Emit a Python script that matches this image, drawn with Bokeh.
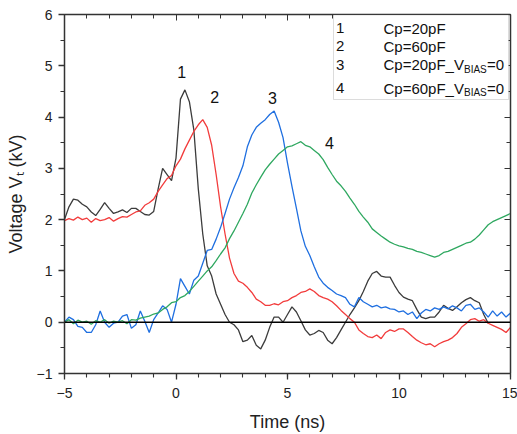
import numpy as np
from bokeh.plotting import figure
from bokeh.models import (ColumnDataSource, LinearAxis, SingleIntervalTicker, Span,
                          Label, BoxAnnotation, Range1d)
from bokeh.embed import file_html
from bokeh.resources import INLINE

# ---------------- data ----------------
time_ns = [round(-5 + 0.2 * i, 1) for i in range(101)]

v_cp20 = [2.0, 2.25, 2.4, 2.38, 2.3, 2.25, 2.15, 2.08, 2.2, 2.33,
          2.22, 2.12, 2.15, 2.19, 2.14, 2.22, 2.22, 2.16, 2.1, 2.09,
          2.16, 2.6, 3.0, 2.88, 2.76, 3.2, 4.35, 4.53, 4.3, 3.75,
          2.6, 1.72, 1.1, 0.9, 0.55, 0.35, 0.15, 0.0, -0.05, -0.15,
          -0.38, -0.35, -0.26, -0.45, -0.52, -0.35, -0.1, 0.1, 0.1, 0.0,
          0.15, 0.3, 0.2, 0.03, -0.15, -0.25, -0.22, -0.16, -0.2, -0.35,
          -0.42, -0.3, -0.15, 0.0, 0.15, 0.28, 0.42, 0.6, 0.8, 0.95,
          0.99, 0.9, 0.88, 0.88, 0.72, 0.58, 0.49, 0.45, 0.42, 0.25,
          0.1, 0.07, 0.1, 0.1, 0.2, 0.33, 0.27, 0.23, 0.3, 0.38,
          0.44, 0.48, 0.42, 0.38, 0.15, -0.02, float("nan"), float("nan"), float("nan"), float("nan"),
          float("nan")]

v_cp60 = [1.98, 2.02, 1.99, 2.05, 2.0, 2.03, 1.95, 2.02, 1.98, 2.0,
          2.04, 1.97, 2.02, 2.06, 2.05, 2.1, 2.15, 2.17, 2.28, 2.33,
          2.4, 2.55, 2.68, 2.8, 2.86, 3.05, 3.18, 3.38, 3.55, 3.72,
          3.85, 3.95, 3.8, 3.45, 2.88, 2.25, 1.72, 1.25, 0.95, 0.8,
          0.76, 0.68, 0.58, 0.45, 0.4, 0.33, 0.33, 0.36, 0.34, 0.4,
          0.42, 0.48, 0.52, 0.58, 0.6, 0.65, 0.6, 0.52, 0.48, 0.45,
          0.4, 0.32, 0.23, 0.15, 0.07, 0.0, -0.15, -0.22, -0.28, -0.3,
          -0.25, -0.32, -0.2, -0.15, -0.18, -0.13, -0.13, -0.2, -0.28, -0.35,
          -0.4, -0.44, -0.42, -0.48, -0.42, -0.38, -0.35, -0.3, -0.22, -0.1,
          -0.03, 0.05, 0.07, 0.02, 0.05, -0.02, -0.06, -0.1, -0.14, -0.2,
          -0.1]

v_cp20_nobias = [0.0, 0.1, 0.05, -0.08, -0.1, -0.2, -0.2, -0.05, 0.22, 0.0,
                 -0.1, -0.02, 0.0, 0.12, 0.15, -0.12, -0.05, 0.22, 0.02, -0.2,
                 0.05, 0.18, 0.32, 0.25, 0.0, 0.35, 0.85, 0.7, 0.55, 0.82,
                 0.9, 1.15, 1.4, 1.42, 1.62, 1.85, 2.12, 2.4, 2.62, 2.82,
                 3.05, 3.42, 3.65, 3.8, 3.88, 3.95, 4.05, 4.12, 3.9, 3.6,
                 3.1, 2.65, 2.22, 1.78, 1.48, 1.3, 1.08, 0.88, 0.76, 0.68,
                 0.62, 0.55, 0.52, 0.48, 0.35, 0.3, 0.48, 0.4, 0.35, 0.3,
                 0.33, 0.28, 0.3, 0.26, 0.25, 0.2, 0.22, 0.15, 0.2, 0.07,
                 0.18, 0.25, 0.22, 0.28, 0.25, 0.3, 0.26, 0.32, 0.28, 0.22,
                 0.33, 0.35, 0.25, 0.28, 0.2, 0.1, 0.22, 0.12, 0.2, 0.1,
                 0.18]

v_cp60_nobias = [0.0, 0.05, -0.03, 0.04, 0.0, 0.02, -0.04, 0.03, 0.0, 0.05,
                 -0.02, 0.02, 0.0, 0.03, -0.03, 0.05, 0.04, 0.08, 0.1, 0.12,
                 0.16, 0.18, 0.25, 0.3, 0.38, 0.4, 0.48, 0.52, 0.6, 0.7,
                 0.8, 0.9, 1.0, 1.08, 1.2, 1.33, 1.45, 1.63, 1.78, 1.95,
                 2.12, 2.3, 2.52, 2.68, 2.83, 2.97, 3.08, 3.18, 3.28, 3.35,
                 3.42, 3.44, 3.48, 3.52, 3.45, 3.42, 3.35, 3.28, 3.17, 3.02,
                 2.88, 2.75, 2.66, 2.55, 2.42, 2.3, 2.16, 2.05, 1.95, 1.82,
                 1.75, 1.68, 1.62, 1.56, 1.52, 1.49, 1.47, 1.44, 1.42, 1.38,
                 1.36, 1.33, 1.3, 1.27, 1.3, 1.36, 1.38, 1.42, 1.46, 1.5,
                 1.54, 1.56, 1.62, 1.7, 1.8, 1.9, 1.96, 2.0, 2.04, 2.08,
                 2.12]

series_numbers = ["1", "2", "3", "4"]
series_names = ["Cp=20pF", "Cp=60pF", "Cp=20pF_V", "Cp=60pF_V"]
series_subscripts = ["", "", "BIAS", "BIAS"]
series_suffixes = ["", "", "=0", "=0"]
series_colors = ["#3c3c3c", "#f23c3c", "#1f6fe0", "#2fa860"]
peak_numbers = ["1", "2", "3", "4"]
peak_label_t = [0.25, 1.73, 4.33, 6.88]
peak_label_v = [4.87, 4.40, 4.38, 3.50]
x_title = "Time (ns)"
y_title = "Voltage V\u209c (kV)"

x_ticks_major = 5
y_ticks_major = 1

# ---------------- layout constants (pixels of the page) ----------------
FONT = "Liberation Sans"
W, H = 517, 434
FRAME_L, FRAME_R, FRAME_T, FRAME_B = 64, 510, 14, 373
BL, BR, BT, BB = FRAME_L, W - FRAME_R, FRAME_T, H - FRAME_B

p = figure(width=W, height=H, output_backend="svg", toolbar_location=None,
           x_range=Range1d(-5, 15), y_range=Range1d(-1, 6),
           min_border_left=BL, min_border_right=BR, min_border_top=BT,
           min_border_bottom=BB)
p.xgrid.visible = False
p.ygrid.visible = False
p.outline_line_color = None
p.background_fill_color = "white"
p.border_fill_color = "white"

xt = SingleIntervalTicker(interval=x_ticks_major, num_minor_ticks=5)
yt = SingleIntervalTicker(interval=y_ticks_major, num_minor_ticks=2)

for ax in p.xaxis + p.yaxis:
    ax.axis_line_width = 1.5
    ax.axis_line_color = "#333333"
    ax.major_tick_line_color = "#333333"
    ax.minor_tick_line_color = "#333333"
    ax.major_tick_line_width = 1.3
    ax.minor_tick_line_width = 1.1
    ax.major_tick_in = 0
    ax.major_tick_out = 6
    ax.minor_tick_in = 0
    ax.minor_tick_out = 4
    ax.major_label_text_font = FONT
    ax.major_label_text_font_size = "14px"
    ax.major_label_text_color = "#222222"
    ax.axis_label_text_font = FONT
    ax.axis_label_text_font_size = "18px"
    ax.axis_label_text_font_style = "normal"
    ax.axis_label_text_color = "#222222"
p.xaxis.ticker = xt
p.yaxis.ticker = yt
p.xaxis.major_label_standoff = 8
p.yaxis.major_label_standoff = 6
p.xaxis.axis_label = x_title
p.xaxis.axis_label_standoff = 11
p.yaxis.axis_label = y_title
p.yaxis.axis_label_standoff = 8

for side, tick in (("above", xt), ("right", yt)):
    ax = LinearAxis(ticker=tick)
    ax.axis_line_width = 1.5
    ax.axis_line_color = "#333333"
    ax.major_tick_line_color = "#333333"
    ax.minor_tick_line_color = "#333333"
    ax.major_tick_in = 6
    ax.major_tick_out = 0
    ax.minor_tick_in = 4
    ax.minor_tick_out = 0
    ax.major_label_text_font_size = "1px"
    ax.major_label_text_color = None
    ax.major_label_standoff = 0
    p.add_layout(ax, side)

# zero line
p.add_layout(Span(location=0, dimension="width", line_color="black", line_width=1.5))

# curves
all_values = [v_cp20, v_cp60, v_cp20_nobias, v_cp60_nobias]
for vals, col in zip(all_values, series_colors):
    src = ColumnDataSource(dict(t=np.array(time_ns), v=np.array(vals, dtype=float)))
    p.line("t", "v", source=src, line_color=col, line_width=1.3)

# peak numbers
for txt, tx, ty in zip(peak_numbers, peak_label_t, peak_label_v):
    p.add_layout(Label(x=tx, y=ty, text=txt, text_font=FONT, text_font_size="16px",
                       text_align="center", text_baseline="middle", text_color="#111111"))

# ---------- helpers: page pixel -> data ----------
FW, FH = FRAME_R - FRAME_L, FRAME_B - FRAME_T


def dx(px):
    return -5 + (px - FRAME_L) / FW * 20


def dy(py):
    return 6 - (py - FRAME_T) / FH * 7


# legend
p.add_layout(BoxAnnotation(left=dx(333), right=dx(508), top=dy(14.5), bottom=dy(99),
                           fill_color="white", fill_alpha=1.0,
                           line_color="#8a8a8a", line_width=1))
row_py = [27.5, 45.5, 64.0, 87.5]
for num, name, sub, suf, col, py in zip(series_numbers, series_names, series_subscripts,
                                       series_suffixes, series_colors, row_py):
    yrow = dy(py)
    p.add_layout(Label(x=dx(335.5), y=yrow, text=num, text_font=FONT, text_font_size="15px",
                       text_align="left", text_baseline="middle", text_color="#111111"))
    p.segment(x0=[dx(352)], y0=[yrow], x1=[dx(372)], y1=[yrow], line_color=col, line_width=1.3)
    p.add_layout(Label(x=dx(383), y=yrow, text=name, text_font=FONT, text_font_size="15px",
                       text_align="left", text_baseline="middle", text_color="#111111"))
    if sub:
        p.add_layout(Label(x=dx(463.5), y=dy(py + 4.5), text=sub, text_font=FONT,
                           text_font_size="10px", text_align="left", text_baseline="middle",
                           text_color="#111111"))
        p.add_layout(Label(x=dx(486.5), y=yrow, text=suf, text_font=FONT,
                           text_font_size="15px", text_align="left", text_baseline="middle",
                           text_color="#111111"))

html = file_html(p, INLINE)
open("out.html", "w").write(html)
